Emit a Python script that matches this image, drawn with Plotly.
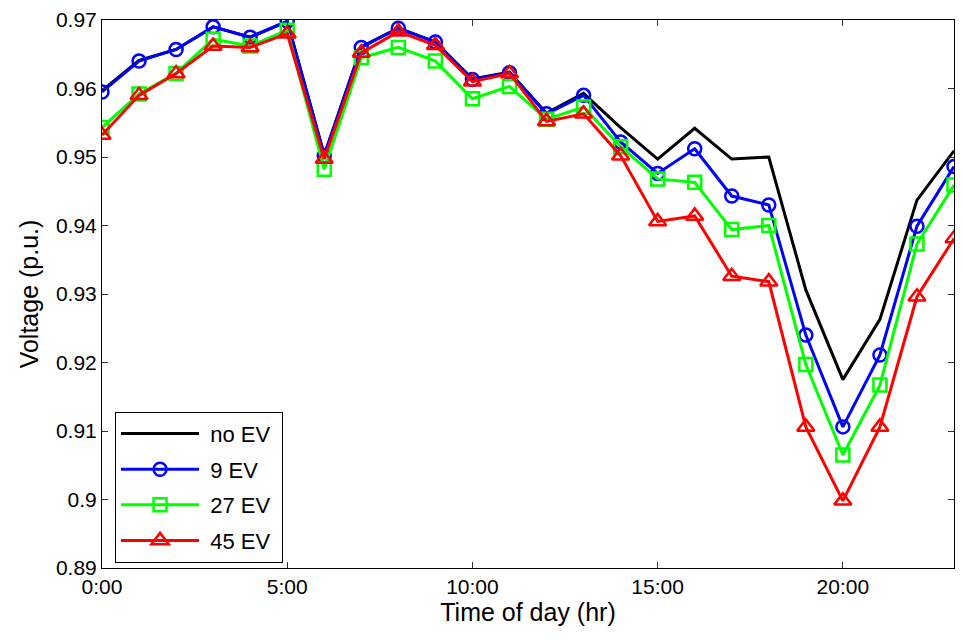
import plotly.graph_objects as go

hours = list(range(24))
tick_vals = [0, 5, 10, 15, 20]
tick_text = ["0:00", "5:00", "10:00", "15:00", "20:00"]
y_ticks = [0.89, 0.90, 0.91, 0.92, 0.93, 0.94, 0.95, 0.96, 0.97]
y_tick_text = ["0.89", "0.9", "0.91", "0.92", "0.93", "0.94", "0.95", "0.96", "0.97"]

no_ev = [0.9597, 0.9641, 0.9657, 0.9690, 0.9675, 0.9698, 0.9503, 0.9661, 0.9688, 0.9668,
         0.9614, 0.9624, 0.9564, 0.9593, 0.9543, 0.9497, 0.9542, 0.9497, 0.9500, 0.9306,
         0.9175, 0.9263, 0.9437, 0.9509]
ev9 = [0.9595, 0.9640, 0.9657, 0.9690, 0.9675, 0.9698, 0.9502, 0.9660, 0.9688, 0.9668,
       0.9613, 0.9623, 0.9563, 0.9590, 0.9522, 0.9476, 0.9512, 0.9443, 0.9430, 0.9240,
       0.9106, 0.9211, 0.9399, 0.9486]
ev27 = [0.9543, 0.9592, 0.9622, 0.9672, 0.9662, 0.9685, 0.9482, 0.9645, 0.9660, 0.9640,
        0.9585, 0.9603, 0.9555, 0.9573, 0.9515, 0.9468, 0.9463, 0.9394, 0.9400, 0.9197,
        0.9065, 0.9167, 0.9373, 0.9459]
ev45 = [0.9532, 0.9590, 0.9622, 0.9662, 0.9660, 0.9680, 0.9497, 0.9652, 0.9683, 0.9663,
        0.9610, 0.9622, 0.9552, 0.9563, 0.9502, 0.9406, 0.9414, 0.9326, 0.9318, 0.9106,
        0.8998, 0.9106, 0.9296, 0.9381]

series = [
    ("no EV", no_ev, "#000000", None, 0),
    ("9 EV", ev9, "#0000FF", "circle-open", 13),
    ("27 EV", ev27, "#00FF00", "square-open", 13),
    ("45 EV", ev45, "#FF0000", "triangle-up-open", 15),
]

NB = "\u00a0"

fig = go.Figure()
for i, (name, vals, color, sym, size) in enumerate(series):
    label = NB + name + NB
    if sym is None:
        fig.add_trace(go.Scatter(x=hours, y=vals, name=label, mode="lines",
                                 line=dict(color=color, width=3), legendgroup=f"g{i}"))
    else:
        fig.add_trace(go.Scatter(x=hours, y=vals, name=label, mode="lines+markers",
                                 line=dict(color=color, width=3),
                                 marker=dict(symbol=sym, size=size, color=color,
                                             line=dict(color=color, width=2.5)),
                                 legendgroup=f"g{i}"))

font = dict(family="Arial, Liberation Sans, sans-serif", size=21, color="#000000")
legfont = dict(family="Arial, Liberation Sans, sans-serif", size=22, color="#000000")

fig.update_layout(
    width=963, height=639,
    margin=dict(l=102, r=9, t=20, b=71),
    plot_bgcolor="white", paper_bgcolor="white",
    font=font,
    showlegend=True,
    legend=dict(x=0.0153, y=0.285, xanchor="left", yanchor="top",
                bordercolor="#000000", borderwidth=1, bgcolor="white",
                font=legfont, tracegroupgap=4, itemwidth=78),
    xaxis=dict(range=[0, 23], tickvals=tick_vals, ticktext=tick_text,
               showgrid=False, zeroline=False, showline=True, linecolor="#000000",
               linewidth=1, mirror="ticks", ticks="inside", ticklen=6, tickcolor="#333333",
               title=dict(text="Time of day (hr)", standoff=6), tickfont=font),
    yaxis=dict(range=[0.89, 0.97], tickvals=y_ticks, ticktext=y_tick_text,
               showgrid=False, zeroline=False, showline=True, linecolor="#000000",
               linewidth=1, mirror="ticks", ticks="inside", ticklen=6, tickcolor="#333333",
               title=dict(text="Voltage (p.u.)", standoff=10), tickfont=font),
)

fig.write_html("out.html")
